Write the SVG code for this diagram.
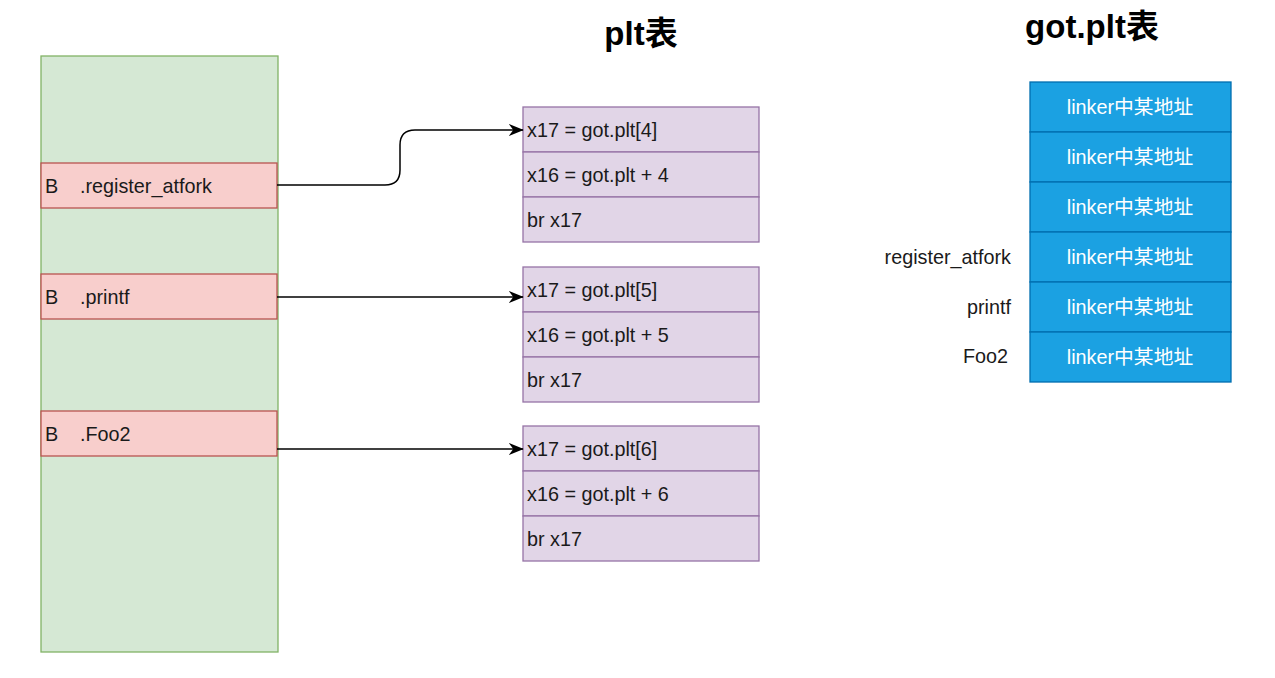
<svg xmlns="http://www.w3.org/2000/svg" width="1275" height="678" viewBox="0 0 1275 678">
<defs>
<marker id="arr" viewBox="0 0 10 10" refX="9.5" refY="5" markerWidth="15" markerHeight="12" markerUnits="userSpaceOnUse" orient="auto" preserveAspectRatio="none">
<path d="M0 0 L10 5 L0 10 L3 5 Z" fill="#000"/>
</marker>
<style>
text{font-family:"Liberation Sans",Arial,"Noto Sans CJK SC",sans-serif;font-size:19.8px;fill:#1a1a1a}
.title{font-weight:bold;font-size:33px;fill:#000;text-anchor:middle}
.green{fill:#d5e8d4;stroke:#82b366;stroke-width:1.3}
.red{fill:#f8cecc;stroke:#b85450;stroke-width:1.3}
.purple{fill:#e1d5e7;stroke:#9673a6;stroke-width:1.3}
.blue{fill:#1ba1e2;stroke:#006eaf;stroke-width:1.3}
.wt{fill:#fff;text-anchor:middle}
.lbl{text-anchor:end}
.conn{fill:none;stroke:#000;stroke-width:1.5;marker-end:url(#arr)}
</style>
</defs>
<rect width="1275" height="678" fill="#fff"/>
<text class="title" x="641" y="45">plt表</text>
<text class="title" x="1092" y="38">got.plt表</text>

<g id="code">
<rect class="green" x="41" y="56" width="237" height="596"/>
</g>
<g id="b-register">
<rect class="red" x="41" y="163" width="236" height="45"/>
<text x="45" y="193">B</text><text x="80" y="193">.register_atfork</text>
</g>
<g id="b-printf">
<rect class="red" x="41" y="274" width="236" height="45"/>
<text x="45" y="304">B</text><text x="80" y="304">.printf</text>
</g>
<g id="b-foo2">
<rect class="red" x="41" y="411" width="236" height="45"/>
<text x="45" y="441">B</text><text x="80" y="441">.Foo2</text>
</g>

<g id="plt1">
<rect class="purple" x="523" y="107" width="236" height="45"/>
<rect class="purple" x="523" y="152" width="236" height="45"/>
<rect class="purple" x="523" y="197" width="236" height="45"/>
<text x="527" y="137">x17 = got.plt[4]</text>
<text x="527" y="182">x16 = got.plt + 4</text>
<text x="527" y="227">br x17</text>
</g>
<g id="plt2">
<rect class="purple" x="523" y="267" width="236" height="45"/>
<rect class="purple" x="523" y="312" width="236" height="45"/>
<rect class="purple" x="523" y="357" width="236" height="45"/>
<text x="527" y="297">x17 = got.plt[5]</text>
<text x="527" y="342">x16 = got.plt + 5</text>
<text x="527" y="387">br x17</text>
</g>
<g id="plt3">
<rect class="purple" x="523" y="426" width="236" height="45"/>
<rect class="purple" x="523" y="471" width="236" height="45"/>
<rect class="purple" x="523" y="516" width="236" height="45"/>
<text x="527" y="456">x17 = got.plt[6]</text>
<text x="527" y="501">x16 = got.plt + 6</text>
<text x="527" y="546">br x17</text>
</g>

<g id="gotplt">
<rect class="blue" x="1030" y="82" width="201" height="50"/>
<rect class="blue" x="1030" y="132" width="201" height="50"/>
<rect class="blue" x="1030" y="182" width="201" height="50"/>
<rect class="blue" x="1030" y="232" width="201" height="50"/>
<rect class="blue" x="1030" y="282" width="201" height="50"/>
<rect class="blue" x="1030" y="332" width="201" height="50"/>
<text class="wt" x="1130" y="114">linker中某地址</text>
<text class="wt" x="1130" y="164">linker中某地址</text>
<text class="wt" x="1130" y="214">linker中某地址</text>
<text class="wt" x="1130" y="264">linker中某地址</text>
<text class="wt" x="1130" y="314">linker中某地址</text>
<text class="wt" x="1130" y="364">linker中某地址</text>
</g>
<g id="labels">
<text class="lbl" x="1011" y="264">register_atfork</text>
<text class="lbl" x="1011" y="314">printf</text>
<text class="lbl" x="1008" y="363">Foo2</text>
</g>

<g id="connectors">
<path class="conn" d="M277 185 L385 185 Q400 185 400 170 L400 145 Q400 130 415 130 L523 130"/>
<path class="conn" d="M277 297 L523 297"/>
<path class="conn" d="M277 449 L523 449"/>
</g>
</svg>
